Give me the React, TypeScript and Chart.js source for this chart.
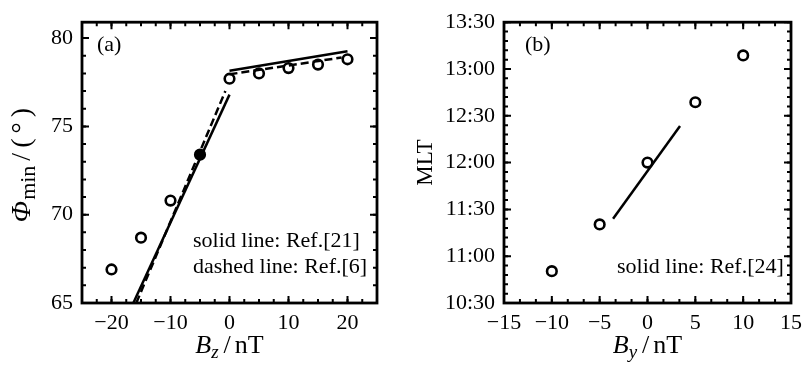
import React, { useEffect, useRef } from 'react';
import { Chart, registerables } from 'chart.js';

Chart.register(...registerables);

// ---------- Panel (a) data ----------
const bzValues = [-20, -15, -10, -5, 0, 5, 10, 15, 20];
const phiMinValues = [66.9, 68.7, 70.8, 73.4, 77.7, 78.0, 78.3, 78.5, 78.8];
const filledBz = [-5];
const solidLowBz = [-16.3, 0];
const solidLowPhi = [65, 76.8];
const solidHighBz = [0, 20];
const solidHighPhi = [78.15, 79.25];
const dashedLowBz = [-15.8, -0.7];
const dashedLowPhi = [65, 77.0];
const dashedHighBz = [0, 19];
const dashedHighPhi = [77.95, 78.9];
const bzTicks = [-20, -10, 0, 10, 20];
const phiTicks = [65, 70, 75, 80];

// ---------- Panel (b) data ----------
const byValues = [-10, -5, 0, 5, 10];
const mltValues = [10.84, 11.34, 12.0, 12.645, 13.145];
const lineBy = [-3.6, 3.4];
const lineMlt = [11.4, 12.39];
const byTicks = [-15, -10, -5, 0, 5, 10, 15];
const mltTicks = [10.5, 11, 11.5, 12, 12.5, 13, 13.5];
const mltTickLabels = ['10:30', '11:00', '11:30', '12:00', '12:30', '13:00', '13:30'];

const FONT = "'Liberation Serif', 'Times New Roman', serif";
const TICK_SIZE = 22;
const TEXT_SIZE = 22;

const zip = (xs: number[], ys: number[]) => xs.map((x, i) => ({ x, y: ys[i] }));
const minus = (v: number) => (v < 0 ? '\u2212' + Math.abs(v) : String(v));

type Seg = { text: string; size: number; italic?: boolean; dy?: number; gap?: number; spacing?: number };

function drawRich(ctx: CanvasRenderingContext2D, segs: Seg[], cx: number, cy: number, rotate: boolean) {
  ctx.save();
  ctx.translate(cx, cy);
  if (rotate) ctx.rotate(-Math.PI / 2);
  ctx.fillStyle = '#000';
  ctx.textBaseline = 'alphabetic';
  ctx.textAlign = 'left';
  const setFont = (s: Seg) => {
    ctx.font = `${s.italic ? 'italic ' : ''}${s.size}px ${FONT}`;
    (ctx as any).letterSpacing = `${s.spacing || 0}px`;
  };
  let total = 0;
  const widths = segs.map((s) => {
    setFont(s);
    const w = ctx.measureText(s.text).width + (s.gap || 0);
    total += w;
    return w;
  });
  let x = -total / 2;
  segs.forEach((s, i) => {
    setFont(s);
    ctx.fillText(s.text, x + (s.gap || 0), 8 + (s.dy || 0));
    x += widths[i];
  });
  (ctx as any).letterSpacing = '0px';
  ctx.restore();
}

function framePlugin(opts: {
  xMajor: number[]; yMajor: number[]; xMinorStep: number; yMinorStep: number;
  texts: { text: string; x: number; y: number }[];
  xTitle: Seg[]; yTitle: Seg[]; yTitleX: number;
}) {
  return {
    id: 'frame',
    afterDraw(chart: any) {
      const { ctx, chartArea } = chart;
      const { left, right, top, bottom } = chartArea;
      const xs = chart.scales.x;
      const ys = chart.scales.y;
      ctx.save();
      ctx.strokeStyle = '#000';
      ctx.lineCap = 'butt';
      ctx.lineWidth = 2;
      ctx.beginPath();
      const x0 = xs.min, x1 = xs.max;
      for (let k = Math.ceil(x0 / opts.xMinorStep - 1e-6); k * opts.xMinorStep <= x1 + 1e-6; k++) {
        const px = xs.getPixelForValue(k * opts.xMinorStep);
        ctx.moveTo(px, bottom); ctx.lineTo(px, bottom - 4);
        ctx.moveTo(px, top); ctx.lineTo(px, top + 4);
      }
      const y0 = ys.min, y1 = ys.max;
      for (let k = Math.ceil(y0 / opts.yMinorStep - 1e-6); k * opts.yMinorStep <= y1 + 1e-6; k++) {
        const py = ys.getPixelForValue(k * opts.yMinorStep);
        ctx.moveTo(left, py); ctx.lineTo(left + 4, py);
        ctx.moveTo(right, py); ctx.lineTo(right - 4, py);
      }
      ctx.stroke();
      ctx.lineWidth = 2;
      ctx.beginPath();
      opts.xMajor.forEach((v) => {
        const px = xs.getPixelForValue(v);
        ctx.moveTo(px, bottom); ctx.lineTo(px, bottom - 7);
        ctx.moveTo(px, top); ctx.lineTo(px, top + 7);
      });
      opts.yMajor.forEach((v) => {
        const py = ys.getPixelForValue(v);
        ctx.moveTo(left, py); ctx.lineTo(left + 7, py);
        ctx.moveTo(right, py); ctx.lineTo(right - 7, py);
      });
      ctx.stroke();
      ctx.lineWidth = 2.8;
      ctx.strokeRect(left, top, right - left, bottom - top);
      ctx.fillStyle = '#000';
      ctx.font = `${TEXT_SIZE}px ${FONT}`;
      ctx.textAlign = 'left';
      ctx.textBaseline = 'middle';
      opts.texts.forEach((t) => ctx.fillText(t.text, t.x, t.y));
      ctx.restore();
      drawRich(ctx, opts.xTitle, (left + right) / 2, 345, false);
      drawRich(ctx, opts.yTitle, opts.yTitleX, (top + bottom) / 2, true);
    },
  };
}

const tickFont = { family: FONT, size: TICK_SIZE };

function PanelA() {
  const ref = useRef<HTMLCanvasElement>(null);
  useEffect(() => {
    const chart = new Chart(ref.current!, {
      type: 'scatter',
      data: {
        datasets: [
          { data: zip(solidLowBz, solidLowPhi), showLine: true, borderColor: '#000', borderWidth: 2.5, pointRadius: 0 },
          { data: zip(solidHighBz, solidHighPhi), showLine: true, borderColor: '#000', borderWidth: 2.5, pointRadius: 0 },
          { data: zip(dashedLowBz, dashedLowPhi), showLine: true, borderColor: '#000', borderWidth: 2.5, borderDash: [8, 4], pointRadius: 0 },
          { data: zip(dashedHighBz, dashedHighPhi), showLine: true, borderColor: '#000', borderWidth: 2.5, borderDash: [8, 4], pointRadius: 0 },
          {
            data: zip(bzValues, phiMinValues), showLine: false,
            pointRadius: 4.8, pointBorderWidth: 2.6, pointBorderColor: '#000',
            pointBackgroundColor: bzValues.map((v) => (filledBz.includes(v) ? '#000' : 'rgba(255,255,255,0)')),
          },
        ],
      },
      options: {
        animation: false, responsive: false, devicePixelRatio: 1,
        layout: { padding: { left: 0, right: 23, top: 13, bottom: 0 } },
        plugins: { legend: { display: false }, tooltip: { enabled: false } },
        scales: {
          x: {
            type: 'linear', min: -25, max: 25,
            grid: { display: false, drawTicks: false }, border: { display: false },
            afterBuildTicks: (s: any) => { s.ticks = bzTicks.map((v) => ({ value: v })); },
            afterFit: (s: any) => { s.height = 63; },
            ticks: { autoSkip: false, maxRotation: 0, padding: 7, color: '#000', font: tickFont, callback: (v: any) => minus(Number(v)) },
          },
          y: {
            type: 'linear', min: 65, max: 80.9,
            grid: { display: false, drawTicks: false }, border: { display: false },
            afterBuildTicks: (s: any) => { s.ticks = phiTicks.map((v) => ({ value: v })); },
            afterFit: (s: any) => { s.width = 82; },
            ticks: { autoSkip: false, padding: 9, color: '#000', font: tickFont, callback: (v: any) => String(v) },
          },
        },
      },
      plugins: [framePlugin({
        xMajor: bzTicks, yMajor: phiTicks, xMinorStep: 2.5, yMinorStep: 1,
        texts: [
          { text: '(a)', x: 97, y: 45 },
          { text: 'solid line: Ref.[21]', x: 193, y: 241 },
          { text: 'dashed line: Ref.[6]', x: 193, y: 267 },
        ],
        xTitle: [
          { text: 'B', size: 26, italic: true },
          { text: 'z', size: 19, italic: true, dy: 5 },
          { text: '/', size: 26, gap: 5 },
          { text: 'nT', size: 26, gap: 4 },
        ],
        yTitle: [
          { text: 'Φ', size: 28, italic: true },
          { text: 'min', size: 22, dy: 5, gap: 1 },
          { text: '/(°)', size: 28, gap: 5, spacing: 5 },
        ],
        yTitleX: 22,
      }) as any],
    });
    return () => chart.destroy();
  }, []);
  return <canvas ref={ref} width={400} height={366} style={{ position: 'absolute', left: 0, top: 0, width: 400, height: 366 }} />;
}

function PanelB() {
  const ref = useRef<HTMLCanvasElement>(null);
  useEffect(() => {
    const chart = new Chart(ref.current!, {
      type: 'scatter',
      data: {
        datasets: [
          { data: zip(lineBy, lineMlt), showLine: true, borderColor: '#000', borderWidth: 2.5, pointRadius: 0 },
          {
            data: zip(byValues, mltValues), showLine: false,
            pointRadius: 4.8, pointBorderWidth: 2.6, pointBorderColor: '#000', pointBackgroundColor: 'rgba(255,255,255,0)',
          },
        ],
      },
      options: {
        animation: false, responsive: false, devicePixelRatio: 1,
        layout: { padding: { left: 0, right: 11, top: 14, bottom: 0 } },
        plugins: { legend: { display: false }, tooltip: { enabled: false } },
        scales: {
          x: {
            type: 'linear', min: -15, max: 15,
            grid: { display: false, drawTicks: false }, border: { display: false },
            afterBuildTicks: (s: any) => { s.ticks = byTicks.map((v) => ({ value: v })); },
            afterFit: (s: any) => { s.height = 63; },
            ticks: { autoSkip: false, maxRotation: 0, padding: 7, color: '#000', font: tickFont, callback: (v: any) => minus(Number(v)) },
          },
          y: {
            type: 'linear', min: 10.5, max: 13.5,
            grid: { display: false, drawTicks: false }, border: { display: false },
            afterBuildTicks: (s: any) => { s.ticks = mltTicks.map((v) => ({ value: v })); },
            afterFit: (s: any) => { s.width = 104; },
            ticks: {
              autoSkip: false, padding: 9, color: '#000', font: tickFont,
              callback: (v: any) => mltTickLabels[mltTicks.indexOf(Number(v))] ?? '',
            },
          },
        },
      },
      plugins: [framePlugin({
        xMajor: byTicks, yMajor: mltTicks, xMinorStep: 5 / 3, yMinorStep: 0.1,
        texts: [
          { text: '(b)', x: 125, y: 45 },
          { text: 'solid line: Ref.[24]', x: 217, y: 267 },
        ],
        xTitle: [
          { text: 'B', size: 26, italic: true },
          { text: 'y', size: 19, italic: true, dy: 5 },
          { text: '/', size: 26, gap: 5 },
          { text: 'nT', size: 26, gap: 4 },
        ],
        yTitle: [{ text: 'MLT', size: 23 }],
        yTitleX: 24,
      }) as any],
    });
    return () => chart.destroy();
  }, []);
  return <canvas ref={ref} width={409} height={366} style={{ position: 'absolute', left: 400, top: 0, width: 409, height: 366 }} />;
}

export default function App() {
  return (
    <div style={{ position: 'absolute', left: 0, top: 0, width: 809, height: 366, background: '#fff' }}>
      <PanelA />
      <PanelB />
    </div>
  );
}
